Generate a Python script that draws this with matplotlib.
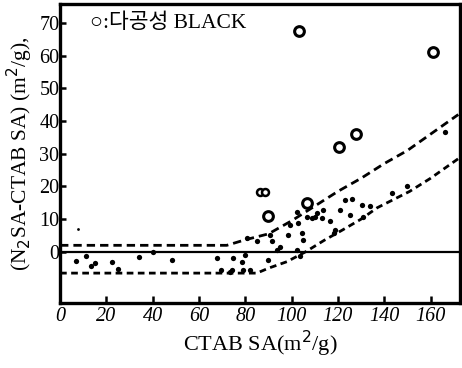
import matplotlib

matplotlib.use("Agg")
import matplotlib.pyplot as plt
import numpy as np

# ordinary blacks (filled dots)
ctab_dots = [6.8, 11.1, 13.4, 15.1, 22.6, 24.9, 34.1, 40.3, 48.2, 7.6,
             67.7, 69.5, 73.4, 74.9, 74.2, 78.5, 79.2, 79.9, 80.6, 82.0,
             85.0, 90.0, 90.7, 91.4, 93.5, 95.0, 98.6, 99.4, 102.2, 103.7,
             102.2, 102.9, 104.4, 105.1, 106.6, 108.7, 110.9, 113.7, 110.2, 113.0,
             116.6, 118.1, 118.8, 120.9, 123.1, 126.0, 125.3, 130.3, 133.9, 131.0,
             143.3, 150.0, 166.3]
diff_dots = [-2.7, -1.4, -4.3, -3.5, -3.0, -5.3, -1.6, 0.1, -2.4, 7.0,
             -1.9, -5.7, -6.2, -1.9, -5.5, -3.0, -5.5, -0.9, 4.2, -5.5,
             3.2, -2.4, 5.2, 3.2, 0.6, 1.6, 5.2, 8.3, 0.6, -1.4,
             12.3, 8.8, 5.7, 3.7, 10.8, 10.3, 11.8, 12.8, 10.8, 10.3,
             9.3, 5.7, 6.7, 12.8, 15.9, 16.1, 11.3, 14.4, 14.1, 10.8,
             17.9, 20.2, 36.6]

# porous blacks (open circles)
ctab_porous = [103.4, 161.0, 127.9, 120.6, 90.0, 106.7, 86.3, 88.7]
diff_porous = [67.7, 61.2, 36.0, 32.2, 10.9, 15.0, 18.3, 18.3]

# band limits
upper_x = [0, 72, 80, 90, 100, 110, 120, 130, 140, 150, 160, 172]
upper_y = [2, 2, 3.7, 5.5, 9.5, 14.0, 18.5, 22.5, 27.0, 31.0, 36.0, 42.0]
lower_x = [0, 85, 90, 98, 106, 114, 122, 130, 137, 151, 160, 172]
lower_y = [-6.5, -6.5, -5.0, -3.0, 0.0, 3.5, 6.7, 10.0, 13.5, 18.5, 22.5, 28.5]

xticks = list(range(0, 161, 20))
yticks = list(range(0, 71, 10))

plt.rcParams.update({"font.family": ["Liberation Serif", "DejaVu Sans", "Noto Sans CJK KR"]})

fig = plt.figure(figsize=(4.62, 3.68), dpi=100)
ax = fig.add_axes([0.13, 0.177, 0.866, 0.812])

ax.axhline(0, color="black", lw=1.6)
ax.plot(upper_x, upper_y, color="black", lw=2.0, dashes=(3.0, 1.8))
ax.plot(lower_x, lower_y, color="black", lw=2.0, dashes=(2.4, 1.6))

ax.plot(ctab_dots[:9], diff_dots[:9], "o", color="black", ms=3.8, mew=0)
ax.plot(ctab_dots[9:10], diff_dots[9:10], "o", color="black", ms=2.0, mew=0)
ax.plot(ctab_dots[10:], diff_dots[10:], "o", color="black", ms=3.8, mew=0)

ax.plot(ctab_porous[:6], diff_porous[:6], "o", mfc="white", mec="black", ms=7.0, mew=2.2)
ax.plot(ctab_porous[6:], diff_porous[6:], "o", mfc="white", mec="black", ms=5.0, mew=1.8)

ax.set_xlim(0, 172.8)
ax.set_ylim(-15.6, 75.8)
ax.set_xticks(xticks)
ax.set_yticks(yticks)
ax.set_xticklabels([str(v) for v in xticks], fontsize=14.5, style="italic")
ax.set_yticklabels([str(v) for v in yticks], fontsize=14.5)
ax.tick_params(axis="x", direction="in", length=5, width=1.8, pad=3)
ax.tick_params(axis="y", direction="in", length=4, width=1.8, pad=0.5)
for s in ax.spines.values():
    s.set_linewidth(2.4)

ax.text(0.075, 0.935, "○:다공성 BLACK", transform=ax.transAxes, fontsize=15.5,
        va="center", ha="left")

ax.set_xlabel("CTAB SA(m$^2$/g)", fontsize=16, labelpad=2)
ax.set_ylabel("(N$_2$SA-CTAB SA) (m$^2$/g),", fontsize=15.5, labelpad=3)

fig.savefig("out.png", dpi=100)
